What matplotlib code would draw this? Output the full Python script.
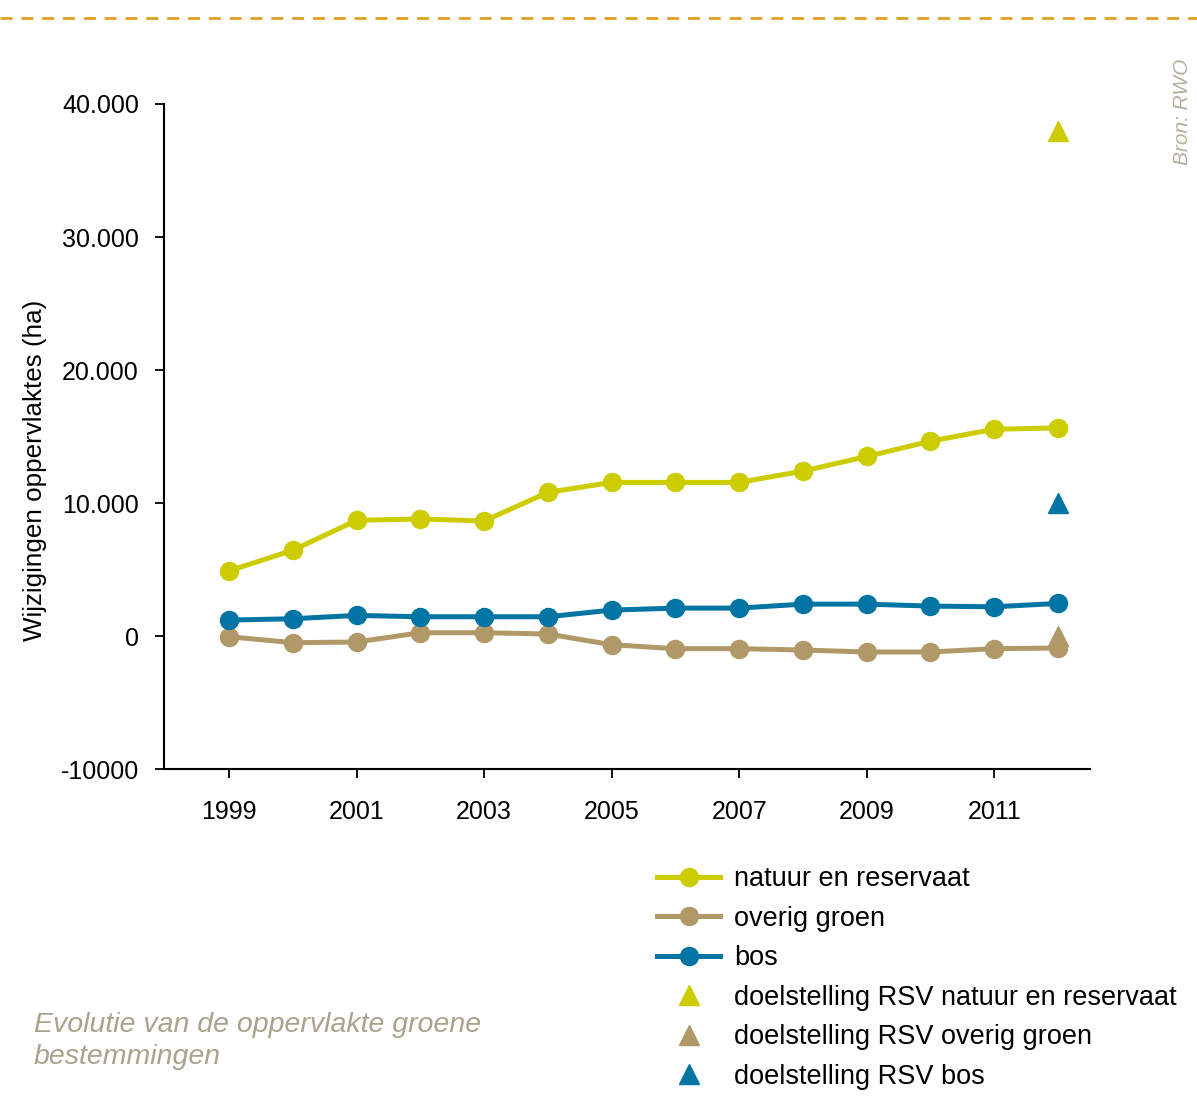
import matplotlib.pyplot as plt
from matplotlib.lines import Line2D

plt.rcParams['font.family'] = ['Liberation Sans', 'DejaVu Sans']

# data
years = [1999, 2000, 2001, 2002, 2003, 2004, 2005, 2006, 2007, 2008, 2009, 2010, 2011, 2012]
natuur = [4900, 6450, 8700, 8800, 8650, 10800, 11550, 11550, 11550, 12400, 13500, 14650, 15550, 15650]
overig = [-50, -500, -450, 250, 250, 150, -650, -950, -950, -1050, -1200, -1200, -950, -900]
bos = [1200, 1300, 1550, 1450, 1450, 1450, 1950, 2100, 2100, 2400, 2400, 2250, 2200, 2450]
target_year = 2012
target_natuur = 38000
target_overig = 0
target_bos = 10000

yticks = [-10000, 0, 10000, 20000, 30000, 40000]
ytick_labels = ['-10000', '0', '10.000', '20.000', '30.000', '40.000']
xticks = [1999, 2001, 2003, 2005, 2007, 2009, 2011]

c_natuur = '#cccc00'
c_overig = '#b09868'
c_bos = '#0074a2'

fig = plt.figure(figsize=(11.97, 11.17), dpi=100)
ax = fig.add_axes([0.137, 0.3115, 0.774, 0.5954])

ax.plot(years, natuur, color=c_natuur, lw=3.6, marker='o', ms=13, label='natuur en reservaat')
ax.plot(years, overig, color=c_overig, lw=3.6, marker='o', ms=13, label='overig groen')
ax.plot(years, bos, color=c_bos, lw=3.6, marker='o', ms=13, label='bos')
ax.plot([target_year], [target_natuur], ls='none', marker='^', ms=14, color=c_natuur,
        label='doelstelling RSV natuur en reservaat')
ax.plot([target_year], [target_overig], ls='none', marker='^', ms=14, color=c_overig,
        label='doelstelling RSV overig groen')
ax.plot([target_year], [target_bos], ls='none', marker='^', ms=14, color=c_bos,
        label='doelstelling RSV bos')

ax.set_xlim(1997.98, 2012.51)
ax.set_ylim(-10000, 40000)
ax.set_yticks(yticks)
ax.set_yticklabels(ytick_labels)
ax.set_xticks(xticks)
ax.tick_params(labelsize=18, length=6.5, width=1.3, direction='out')
ax.tick_params(axis='x', pad=15.5)
ax.tick_params(axis='y', pad=11.5)
for s in ['top', 'right']:
    ax.spines[s].set_visible(False)
for s in ['left', 'bottom']:
    ax.spines[s].set_linewidth(1.5)

ax.set_ylabel('Wijzigingen oppervlaktes (ha)', fontsize=18.7)
ax.yaxis.set_label_coords(-0.126, 0.4496)

leg = ax.legend(loc='upper left', bbox_to_anchor=(0.549, 0.2245), bbox_transform=fig.transFigure,
                frameon=False, fontsize=19.5, handlelength=2.32, handletextpad=0.52,
                labelspacing=0.5, borderaxespad=0, borderpad=0)

# caption and source
fig.text(0.028, 0.068, 'Evolutie van de oppervlakte groene\nbestemmingen', fontsize=20.5,
         style='italic', color='#aaa28c', linespacing=1.33, va='center')
fig.text(0.9875, 0.9, 'Bron: RWO', fontsize=15, style='italic', color='#b8b09c',
         rotation=90, va='center', ha='center')

# dashed line at top
fig.add_artist(Line2D([0, 1], [0.984, 0.984], transform=fig.transFigure, color='#e0a020',
                      lw=2, ls=(0, (4.3, 3.2))))

fig.savefig('out.png', dpi=100)
